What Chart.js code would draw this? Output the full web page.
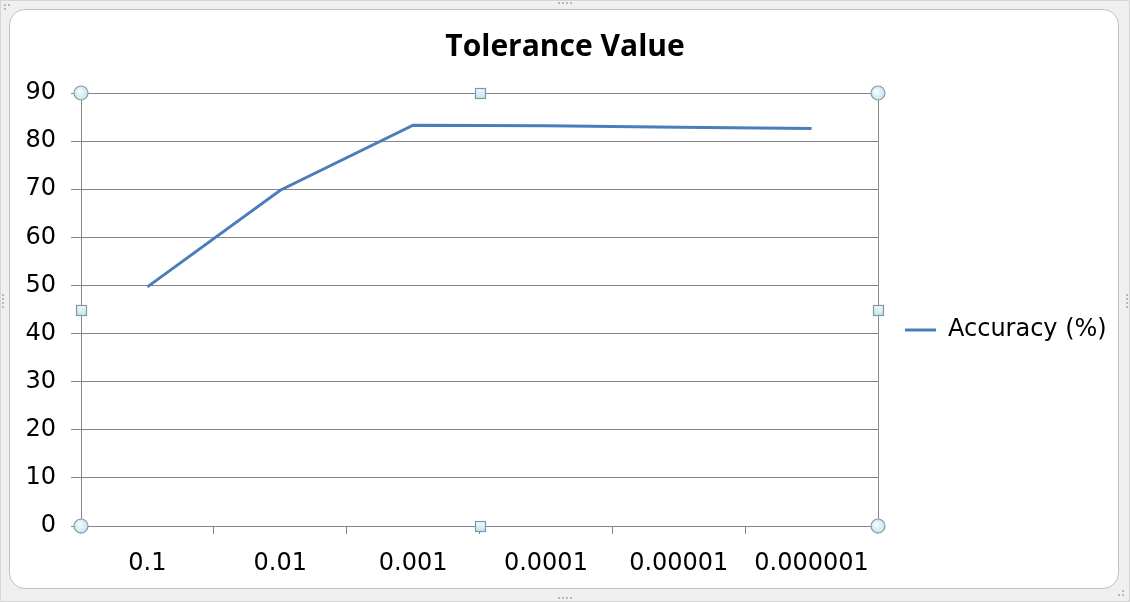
<!DOCTYPE html>
<html>
<head>
<meta charset="utf-8">
<script src="https://cdn.jsdelivr.net/npm/chart.js@4.4.1/dist/chart.umd.min.js"></script>
<style>
  html, body { margin: 0; padding: 0; background: #ffffff; }
  #frame {
    position: absolute; left: 0; top: 0; width: 1128px; height: 600px;
    background: #efefef; border: 1px solid #d6d6d6;
  }
  #sheet {
    position: absolute; left: 9px; top: 9px; width: 1108px; height: 578px;
    background: #ffffff; border: 1px solid #c2c2c2; border-radius: 16px;
  }
  .grip { position: absolute; width: 2px; height: 2px; background: #b8b8b8; }
  #wrap { position: absolute; left: 0; top: 0; width: 1130px; height: 602px; }
</style>
</head>
<body>
<div id="frame"></div>
<div id="sheet"></div>
<div id="wrap"><canvas id="chart" width="1130" height="602"></canvas></div>
<script>
// Tolerance setting vs. classification accuracy
const categories = ['0.1', '0.01', '0.001', '0.0001', '0.00001', '0.000001'];
const accuracy = [49.7, 69.8, 83.3, 83.2, 82.9, 82.6];
const yTicks = [0, 10, 20, 30, 40, 50, 60, 70, 80, 90];

const lineColor = '#4a7ebb';
const gridColor = '#868686';
const tickFont = { family: 'DejaVu Sans', size: 24 };
const LEGEND_WIDTH = 252;

// small resize grips on the outer frame
(function addGrips() {
  const spots = [
    [558, 2], [562, 2], [566, 2], [570, 2],
    [558, 597], [562, 597], [566, 597], [570, 597],
    [2, 294], [2, 298], [2, 302], [2, 306],
    [1126, 294], [1126, 298], [1126, 302], [1126, 306],
    [4, 4], [8, 4], [4, 8],
    [1122, 594], [1118, 594], [1122, 590]
  ];
  spots.forEach(([x, y]) => {
    const d = document.createElement('div');
    d.className = 'grip';
    d.style.left = x + 'px';
    d.style.top = y + 'px';
    document.body.appendChild(d);
  });
})();

// reserve a fixed-width column for the legend on the right
const legendColumn = {
  id: 'legendColumn',
  beforeUpdate(chart) {
    const lg = chart.legend;
    if (lg && !lg._fixedWidth) {
      const fit = lg.fit.bind(lg);
      lg.fit = function () { fit(); this.width = LEGEND_WIDTH; };
      lg._fixedWidth = true;
    }
  }
};

// plot-area outline on the right edge plus selection handles
const plotFrame = {
  id: 'plotFrame',
  afterDraw(chart) {
    const { ctx, chartArea: a } = chart;
    ctx.save();
    ctx.strokeStyle = gridColor;
    ctx.lineWidth = 1;
    ctx.beginPath();
    ctx.moveTo(Math.round(a.right) + 0.5, a.top);
    ctx.lineTo(Math.round(a.right) + 0.5, a.bottom);
    ctx.stroke();

    const cx = (a.left + a.right) / 2;
    const cy = (a.top + a.bottom) / 2;
    const circles = [[a.left, a.top], [a.right, a.top], [a.left, a.bottom], [a.right, a.bottom]];
    const squares = [[cx, a.top], [cx, a.bottom], [a.left, cy], [a.right, cy]];
    circles.forEach(([x, y]) => {
      const g = ctx.createRadialGradient(x - 2, y - 2, 1, x, y, 7);
      g.addColorStop(0, '#f4fbfd');
      g.addColorStop(1, '#c6e6ee');
      ctx.fillStyle = g;
      ctx.strokeStyle = '#8a9aa4';
      ctx.lineWidth = 1.2;
      ctx.beginPath();
      ctx.arc(x, y, 7, 0, Math.PI * 2);
      ctx.fill();
      ctx.stroke();
    });
    squares.forEach(([x, y]) => {
      const g = ctx.createLinearGradient(x, y - 5, x, y + 5);
      g.addColorStop(0, '#f4fbfd');
      g.addColorStop(1, '#c6e6ee');
      ctx.fillStyle = g;
      ctx.strokeStyle = '#7f97a6';
      ctx.lineWidth = 1.2;
      ctx.fillRect(Math.round(x) - 5, Math.round(y) - 5, 11, 11);
      ctx.strokeRect(Math.round(x) - 5 + 0.5, Math.round(y) - 5 + 0.5, 10, 10);
    });
    ctx.restore();
  }
};

new Chart(document.getElementById('chart'), {
  type: 'line',
  data: {
    labels: categories,
    datasets: [{
      label: 'Accuracy (%)',
      data: accuracy,
      borderColor: lineColor,
      backgroundColor: lineColor,
      borderWidth: 3,
      pointRadius: 0,
      tension: 0,
      fill: false
    }]
  },
  options: {
    responsive: false,
    animation: false,
    devicePixelRatio: 1,
    layout: { padding: { left: 0, right: 0, top: 0, bottom: 0 } },
    plugins: {
      title: {
        display: true,
        text: 'Tolerance Value',
        color: '#000000',
        font: { family: 'Open Sans', size: 30, weight: 'bold' },
        padding: { top: 29, bottom: 28 }
      },
      legend: {
        display: true,
        position: 'right',
        title: {
          display: true,
          text: '',
          font: { size: 10 },
          padding: { top: 46, bottom: 0 }
        },
        labels: {
          color: '#000000',
          font: tickFont,
          usePointStyle: true,
          pointStyle: 'line',
          pointStyleWidth: 31,
          padding: 27
        }
      },
      tooltip: { enabled: false }
    },
    scales: {
      x: {
        offset: true,
        grid: {
          offset: true,
          drawOnChartArea: false,
          drawTicks: true,
          tickLength: 8,
          color: gridColor
        },
        border: { display: true, color: gridColor },
        ticks: { color: '#000000', font: tickFont, padding: 15, maxRotation: 0, autoSkip: false },
        afterFit(s) { s.height = 76; }
      },
      y: {
        min: 0,
        max: 90,
        afterBuildTicks(s) { s.ticks = yTicks.map(v => ({ value: v })); },
        grid: { color: gridColor, tickLength: 10, drawTicks: true },
        border: { display: true, color: gridColor },
        ticks: { color: '#000000', font: tickFont, padding: 15 },
        afterFit(s) { s.width = 81; }
      }
    }
  },
  plugins: [legendColumn, plotFrame]
});
</script>
</body>
</html>
